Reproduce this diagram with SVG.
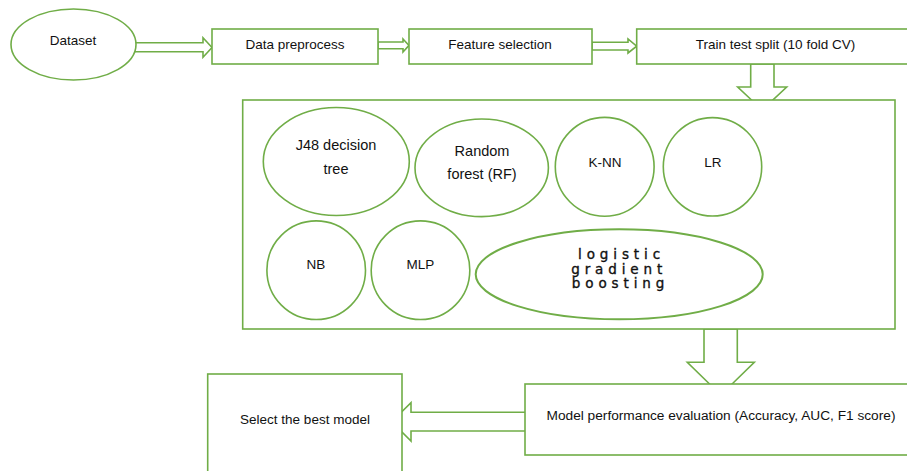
<svg xmlns="http://www.w3.org/2000/svg" width="907" height="471" viewBox="0 0 907 471">
<style>
.s{fill:#fff;stroke:#70AD47;stroke-width:1.6}
.a{fill:#fff;stroke:#70AD47;stroke-width:1.6;stroke-linejoin:miter}
.t{font-family:"Liberation Sans",Arial,sans-serif;font-size:13.5px;fill:#111;text-anchor:middle}
.m{font-family:"Liberation Sans",Arial,sans-serif;font-size:14.5px;fill:#111;text-anchor:middle}
.g{font-family:"DejaVu Sans",Verdana,sans-serif;font-size:13.5px;letter-spacing:4.9px;fill:#111;stroke:#111;stroke-width:0.35;text-anchor:middle}
</style>
<rect width="907" height="471" fill="#fff"/>
<g id="connectors">
<polygon class="a" points="130,42.7 203,42.7 203,37.7 212,47.5 203,57.3 203,51.7 130,51.7"/>
<polygon class="a" points="378,42 403,42 403,39 409,45.4 403,52 403,48.7 378,48.7"/>
<polygon class="a" points="592,42.3 628,42.3 628,39 636.7,46.2 628,53 628,50 592,50"/>
<polygon class="a" points="750.7,64 774,64 774,87 786.7,87 762.2,110 737.7,87 750.7,87"/>
<polygon class="a" points="704,329 737.3,329 737.3,362.3 754.3,362.3 720.8,395 687.3,362.3 704,362.3"/>
<polygon class="a" points="530,412.3 411,412.3 411,402.7 391.7,421.8 411,441 411,431 530,431"/>
</g>
<g id="dataset">
<ellipse class="s" cx="73.5" cy="44.5" rx="62.5" ry="35.5"/>
<text class="t" x="73" y="45">Dataset</text>
</g>
<g id="data-preprocess">
<rect class="s" x="212" y="29" width="166" height="35"/>
<text class="t" x="295" y="49">Data preprocess</text>
</g>
<g id="feature-selection">
<rect class="s" x="409" y="29" width="183" height="35"/>
<text class="t" x="500" y="49">Feature selection</text>
</g>
<g id="train-test-split">
<rect class="s" x="636.7" y="29" width="280" height="35"/>
<text class="t" x="775.5" y="49">Train test split (10 fold CV)</text>
</g>
<g id="models">
<rect class="s" x="242.7" y="100" width="652.3" height="229"/>
</g>
<g id="j48">
<ellipse class="s" cx="336.3" cy="161.5" rx="73" ry="54"/>
<text class="m" x="336" y="149.5">J48 decision</text>
<text class="m" x="336" y="174">tree</text>
</g>
<g id="rf">
<ellipse class="s" cx="481.7" cy="167.8" rx="66.7" ry="48.8"/>
<text class="m" x="482" y="156">Random</text>
<text class="m" x="482" y="179">forest (RF)</text>
</g>
<g id="knn">
<circle class="s" cx="604.7" cy="166.8" r="49.4"/>
<text class="t" x="605" y="166.7">K-NN</text>
</g>
<g id="lr">
<circle class="s" cx="712.5" cy="166.8" r="49.2"/>
<text class="t" x="713" y="166.7">LR</text>
</g>
<g id="nb">
<circle class="s" cx="316.2" cy="270.2" r="49.3"/>
<text class="t" x="316" y="269.3">NB</text>
</g>
<g id="mlp">
<circle class="s" cx="420.5" cy="270.2" r="49.3"/>
<text class="t" x="420.5" y="269.3">MLP</text>
</g>
<g id="lgb">
<ellipse class="s" cx="619.2" cy="274.3" rx="143.5" ry="45" style="stroke-width:2"/>
<text class="g" x="621.5" y="258.5">logistic</text>
<text class="g" x="619.2" y="273.5">gradient</text>
<text class="g" x="620.5" y="288">boosting</text>
</g>
<g id="evaluation">
<rect class="s" x="525" y="384" width="390" height="71"/>
<text class="t" x="721" y="420" style="font-size:13.7px">Model performance evaluation (Accuracy, AUC, F1 score)</text>
</g>
<g id="select-best">
<rect class="s" x="207.7" y="374" width="194.3" height="110"/>
<text class="t" x="305" y="424">Select the best model</text>
</g>
</svg>
